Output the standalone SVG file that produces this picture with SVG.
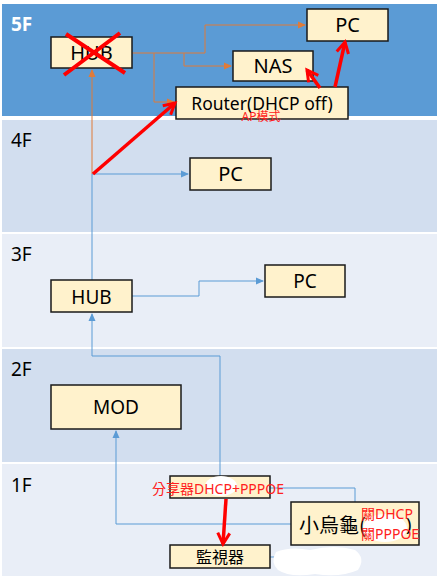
<svg xmlns="http://www.w3.org/2000/svg" width="446" height="582" viewBox="0 0 446 582">
<style>
.band-d{fill:#D2DEEF}
.band-l{fill:#E9EEF7}
.box{fill:#FFF2CC;stroke:#1a1a1a;stroke-width:1.5}
.t{font-family:"Noto Sans","Open Sans","Noto Sans CJK TC",sans-serif;fill:#000;text-anchor:middle}
.fl{font-family:"Noto Sans","Open Sans",sans-serif;font-size:19px;fill:#000}
.red{font-family:"Noto Sans","Noto Sans CJK TC",sans-serif;fill:#FF2020}
.blue{fill:none;stroke:#5B9BD5;stroke-width:1}
.orange{fill:none;stroke:#E07B39;stroke-width:1}
.rl{fill:none;stroke:#FF0000;stroke-width:3.5}
</style>
<defs>
<marker id="ab" markerWidth="8" markerHeight="8" refX="7" refY="4" orient="auto" markerUnits="userSpaceOnUse"><path d="M0,0.5 L8,4 L0,7.5 Z" fill="#5B9BD5"/></marker>
<marker id="ao" markerWidth="8" markerHeight="8" refX="7" refY="4" orient="auto" markerUnits="userSpaceOnUse"><path d="M0,0.5 L8,4 L0,7.5 Z" fill="#E07B39"/></marker>
<marker id="ar" markerWidth="16" markerHeight="16" refX="13" refY="8" orient="auto" markerUnits="userSpaceOnUse"><path d="M2,2 L13,8 L2,14" fill="none" stroke="#FF0000" stroke-width="3"/></marker>
</defs>

<g id="floors">
<rect x="2" y="4" width="435" height="112" fill="#5B9BD5"/>
<rect x="2" y="120" width="435" height="112" class="band-d"/>
<rect x="2" y="234" width="435" height="113" class="band-l"/>
<rect x="2" y="349" width="435" height="113" class="band-d"/>
<rect x="2" y="464" width="435" height="112" class="band-l"/>
<text x="11" y="31" class="fl" style="fill:#fff;font-weight:bold">5F</text>
<text x="11" y="147" class="fl">4F</text>
<text x="11" y="261" class="fl">3F</text>
<text x="11" y="376" class="fl">2F</text>
<text x="11" y="492" class="fl">1F</text>
</g>

<g id="connectors">
<polyline class="orange" points="132,53 154,53 154,102 174,102" marker-end="url(#ao)"/>
<polyline class="orange" points="154,53 184,53 184,66 231,66" marker-end="url(#ao)"/>
<polyline class="orange" points="184,53 205,53 205,25 305,25" marker-end="url(#ao)"/>
<polyline class="orange" points="92,174 92,70" marker-end="url(#ao)"/>
<polyline class="blue" points="92,280 92,174 188,174" marker-end="url(#ab)"/>
<polyline class="blue" points="132,296 199,296 199,281 263,281" marker-end="url(#ab)"/>
<polyline class="blue" points="220,476 220,356 92,356 92,314" marker-end="url(#ab)"/>
<polyline class="blue" points="291,524 116,524 116,431" marker-end="url(#ab)"/>
<polyline class="blue" points="270,488 355,488 355,502"/>
<polyline class="blue" points="270,557 278,557"/>
</g>

<g id="hub5">
<rect x="51" y="37" width="81" height="31" class="box"/>
<text x="91.5" y="60" class="t" font-size="20">HUB</text>
<path d="M66,34 L125,73 M64,75 L120,33" stroke="#FF0000" stroke-width="4" fill="none"/>
</g>
<g id="pc5">
<rect x="307" y="9" width="81" height="32" class="box"/>
<text x="347.5" y="32" class="t" font-size="20">PC</text>
</g>
<g id="nas">
<rect x="233" y="51" width="80" height="30" class="box"/>
<text x="273" y="73" class="t" font-size="20">NAS</text>
</g>
<g id="router">
<rect x="176" y="87" width="172" height="32" class="box"/>
<text x="262" y="110" class="t" font-size="17.5">Router(DHCP off)</text>
<text x="261" y="121" class="red" font-size="12" text-anchor="middle">AP模式</text>
</g>
<g id="pc4">
<rect x="190" y="158" width="81" height="32" class="box"/>
<text x="230.5" y="181" class="t" font-size="20">PC</text>
</g>
<g id="hub3">
<rect x="51" y="280" width="81" height="32" class="box"/>
<text x="91.5" y="304" class="t" font-size="19">HUB</text>
</g>
<g id="pc3">
<rect x="265" y="265" width="80" height="32" class="box"/>
<text x="305" y="288" class="t" font-size="19">PC</text>
</g>
<g id="mod">
<rect x="51" y="385" width="130" height="44" class="box"/>
<text x="116" y="414" class="t" font-size="19">MOD</text>
</g>
<g id="router1f">
<rect x="170" y="476" width="100" height="22" class="box"/>
<ellipse cx="221" cy="486" rx="16" ry="10" fill="#fff"/>
<text x="218" y="494" class="red" font-size="14" text-anchor="middle">分享器DHCP+PPPOE</text>
</g>
<g id="turtle">
<rect x="291" y="502" width="128" height="43" class="box"/>
<ellipse cx="385" cy="528" rx="22" ry="14" fill="#fff"/>
<text x="299" y="533" font-family="'Noto Sans CJK TC',sans-serif" font-size="20" fill="#000">小烏龜(</text>
<text x="406" y="531" font-family="'Noto Sans',sans-serif" font-size="18" fill="#000">)</text>
<text x="361" y="519" class="red" font-size="14">關DHCP</text>
<text x="361" y="539" class="red" font-size="14">關PPPOE</text>
</g>
<g id="monitor">
<rect x="170" y="545" width="100" height="23" class="box"/>
<text x="220" y="563" class="t" font-size="16" font-family="'Noto Sans CJK TC',sans-serif">監視器</text>
</g>
<g id="blob">
<path d="M276,552 Q290,546 310,550 Q335,544 355,550 Q366,558 358,570 Q340,578 315,574 Q290,578 278,570 Q270,562 276,552 Z" fill="#fff"/>
</g>

<g id="red-arrows">
<line class="rl" x1="93" y1="174" x2="175" y2="103" marker-end="url(#ar)"/>
<line class="rl" x1="320" y1="88" x2="307" y2="70" marker-end="url(#ar)"/>
<line class="rl" x1="335" y1="87" x2="345" y2="42" marker-end="url(#ar)"/>
<line class="rl" x1="226" y1="499" x2="223" y2="544" marker-end="url(#ar)"/>
</g>
</svg>
